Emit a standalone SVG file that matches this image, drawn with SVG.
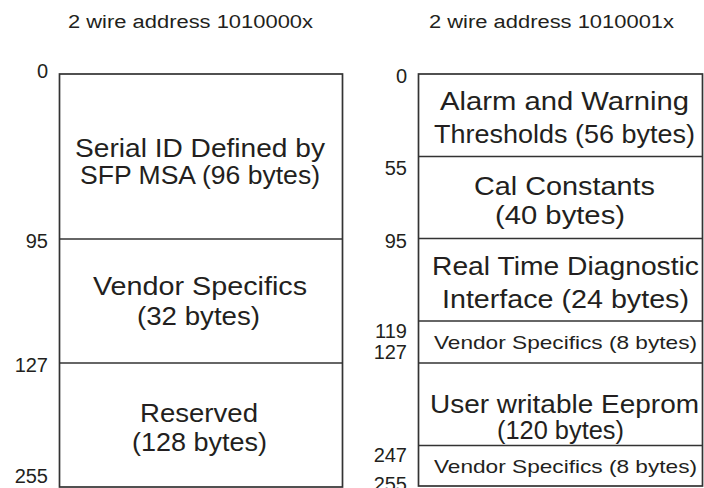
<svg xmlns="http://www.w3.org/2000/svg" width="704" height="488" viewBox="0 0 704 488">
<style>
  .box { fill: #ffffff; stroke: #333333; stroke-width: 1.7; }
  .div { stroke: #333333; stroke-width: 1.7; }
  text { font-family: "Liberation Sans", Arial, sans-serif; fill: #231f20; }
  .t { font-size: 18px; text-anchor: middle; }
  .lbl { font-size: 25px; text-anchor: middle; }
  .sm { font-size: 19px; text-anchor: middle; }
  .num { font-size: 20px; text-anchor: end; }
</style>
<rect width="704" height="488" fill="#ffffff"/>

<g id="left-map">
  <text class="t" x="190.5" y="28" textLength="245" lengthAdjust="spacingAndGlyphs">2 wire address 1010000x</text>
  <rect class="box" x="59.5" y="74" width="283" height="413"/>
  <line class="div" x1="59.5" y1="239" x2="342.5" y2="239"/>
  <line class="div" x1="59.5" y1="363" x2="342.5" y2="363"/>
  <text class="num" x="48" y="78">0</text>
  <text class="num" x="48" y="248">95</text>
  <text class="num" x="48" y="372">127</text>
  <text class="num" x="48" y="483">255</text>
</g>

<g id="left-serial-id">
  <text class="lbl" x="200" y="157" textLength="250" lengthAdjust="spacingAndGlyphs">Serial ID Defined by</text>
  <text class="lbl" x="200" y="184" textLength="240" lengthAdjust="spacingAndGlyphs">SFP MSA (96 bytes)</text>
</g>
<g id="left-vendor">
  <text class="lbl" x="200" y="295" textLength="214" lengthAdjust="spacingAndGlyphs">Vendor Specifics</text>
  <text class="lbl" x="198.5" y="325" textLength="123" lengthAdjust="spacingAndGlyphs">(32 bytes)</text>
</g>
<g id="left-reserved">
  <text class="lbl" x="199" y="422" textLength="118" lengthAdjust="spacingAndGlyphs">Reserved</text>
  <text class="lbl" x="199.5" y="451" textLength="135" lengthAdjust="spacingAndGlyphs">(128 bytes)</text>
</g>

<g id="right-map">
  <text class="t" x="551.5" y="28" textLength="245" lengthAdjust="spacingAndGlyphs">2 wire address 1010001x</text>
  <rect class="box" x="418.5" y="74" width="284" height="412"/>
  <line class="div" x1="418.5" y1="156.5" x2="702.5" y2="156.5"/>
  <line class="div" x1="418.5" y1="238.5" x2="702.5" y2="238.5"/>
  <line class="div" x1="418.5" y1="321" x2="702.5" y2="321"/>
  <line class="div" x1="418.5" y1="363" x2="702.5" y2="363"/>
  <line class="div" x1="418.5" y1="445.5" x2="702.5" y2="445.5"/>
  <text class="num" x="407" y="83">0</text>
  <text class="num" x="407" y="175">55</text>
  <text class="num" x="407" y="248">95</text>
  <text class="num" x="407" y="338">119</text>
  <text class="num" x="407" y="359">127</text>
  <text class="num" x="407" y="462">247</text>
  <text class="num" x="407" y="491">255</text>
</g>

<g id="right-alarm">
  <text class="lbl" x="564.5" y="110" textLength="249" lengthAdjust="spacingAndGlyphs">Alarm and Warning</text>
  <text class="lbl" x="564.5" y="143" textLength="261" lengthAdjust="spacingAndGlyphs">Thresholds (56 bytes)</text>
</g>
<g id="right-cal">
  <text class="lbl" x="564.5" y="195" textLength="181" lengthAdjust="spacingAndGlyphs">Cal Constants</text>
  <text class="lbl" x="560" y="224" textLength="130" lengthAdjust="spacingAndGlyphs">(40 bytes)</text>
</g>
<g id="right-diag">
  <text class="lbl" x="565.5" y="275" textLength="267" lengthAdjust="spacingAndGlyphs">Real Time Diagnostic</text>
  <text class="lbl" x="565.5" y="308" textLength="247" lengthAdjust="spacingAndGlyphs">Interface (24 bytes)</text>
</g>
<g id="right-vendor1">
  <text class="sm" x="565.5" y="349" textLength="263" lengthAdjust="spacingAndGlyphs">Vendor Specifics (8 bytes)</text>
</g>
<g id="right-user">
  <text class="lbl" x="564.5" y="413" textLength="269" lengthAdjust="spacingAndGlyphs">User writable Eeprom</text>
  <text class="lbl" x="560.5" y="439" textLength="127" lengthAdjust="spacingAndGlyphs">(120 bytes)</text>
</g>
<g id="right-vendor2">
  <text class="sm" x="565.5" y="473" textLength="263" lengthAdjust="spacingAndGlyphs">Vendor Specifics (8 bytes)</text>
</g>
</svg>
